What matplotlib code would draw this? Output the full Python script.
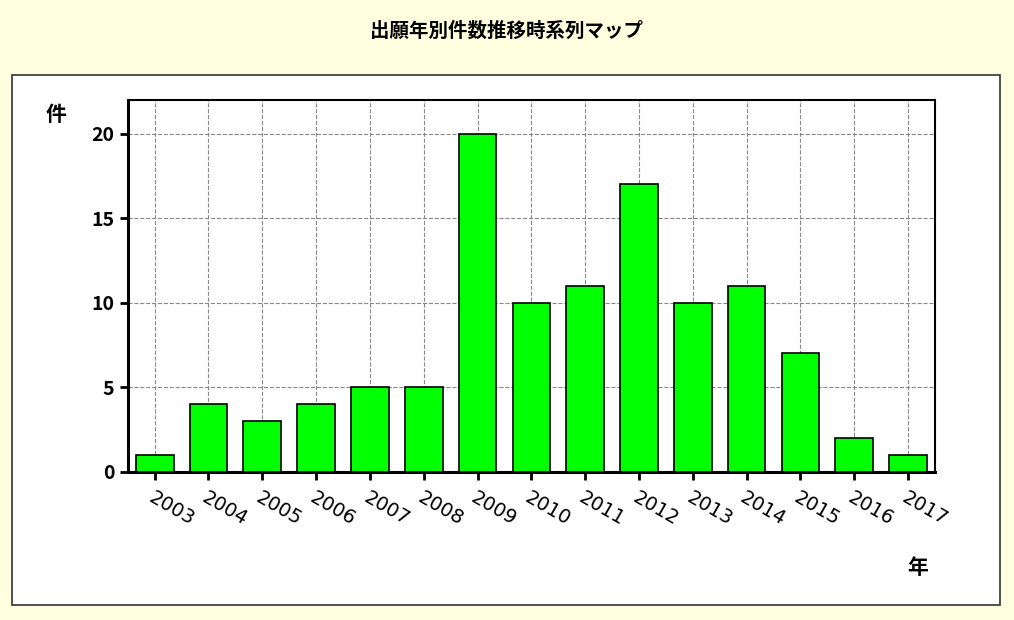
import matplotlib
matplotlib.use('Agg')
import matplotlib.pyplot as plt
from matplotlib.patches import Rectangle

plt.rcParams['font.family'] = ['Noto Sans CJK JP', 'DejaVu Sans']

years = ['2003', '2004', '2005', '2006', '2007', '2008', '2009', '2010',
         '2011', '2012', '2013', '2014', '2015', '2016', '2017']
counts = [1, 4, 3, 4, 5, 5, 20, 10, 11, 17, 10, 11, 7, 2, 1]

fig = plt.figure(figsize=(10.14, 6.2), dpi=100, facecolor='#ffffe0')

# white inner panel with border, drawn behind the axes
fig.patches.append(Rectangle((0.012, 0.024), 0.974, 0.855, transform=fig.transFigure,
                             facecolor='white', edgecolor='#333333', linewidth=1.2,
                             zorder=-10))
fig.text(0.5, 0.95, '出願年別件数推移時系列マップ', ha='center', va='center',
         fontsize=14, fontweight='bold')

ax = fig.add_axes([0.126, 0.239, 0.796, 0.6])
ax.set_zorder(5)
x = list(range(len(years)))
ax.bar(x, counts, width=0.7, color='#00ff00', edgecolor='black', linewidth=1.2, zorder=3)
ax.set_xlim(-0.5, len(years) - 0.5)
ax.set_ylim(0, 22)
ax.set_yticks([0, 5, 10, 15, 20])
ax.set_xticks(x)
ax.set_xticklabels(years, rotation=-30, ha='left', va='top', rotation_mode='anchor',
                   fontsize=14, fontfamily='DejaVu Sans')
ax.tick_params(axis='y', labelsize=14, width=2, length=6)
ax.tick_params(axis='x', width=2, length=6, pad=6)
for lab in ax.get_yticklabels():
    lab.set_fontweight('bold')
ax.grid(True, linestyle='--', color='#888888', linewidth=0.8, zorder=0)
ax.set_axisbelow(True)
for s in ax.spines.values():
    s.set_linewidth(1.5)
ax.spines['left'].set_linewidth(2.2)
ax.spines['bottom'].set_linewidth(2.2)

fig.text(0.055, 0.815, '件', fontsize=15, fontweight='bold', ha='center', va='center')
fig.text(0.905, 0.085, '年', fontsize=15, fontweight='bold', ha='center', va='center')

fig.savefig('out.png', dpi=100, facecolor=fig.get_facecolor())
